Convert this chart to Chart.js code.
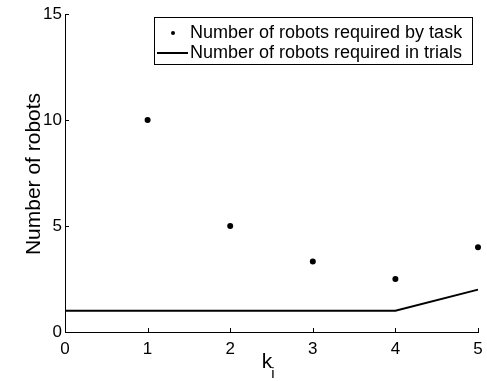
<!DOCTYPE html>
<html>
<head>
<meta charset="utf-8">
<script src="https://cdn.jsdelivr.net/npm/chart.js@4/dist/chart.umd.min.js"></script>
<style>
  html, body { margin: 0; padding: 0; background: #fff; }
  #wrap { width: 487px; height: 381px; }
</style>
</head>
<body>
<div id="wrap"><canvas id="c" width="487" height="381"></canvas></div>
<script>
// k_i values and robot counts
const kValues = [1, 2, 3, 4, 5];
const robotsByTask = [10, 5, 3.33, 2.5, 4];
const trialK = [0, 1, 2, 3, 4, 5];
const robotsInTrials = [1, 1, 1, 1, 1, 2];
const xTicks = [0, 1, 2, 3, 4, 5];
const yTicks = [0, 5, 10, 15];
const seriesLabels = ['Number of robots required by task', 'Number of robots required in trials'];

const FONT = '"Liberation Sans", Arial, Helvetica, sans-serif';

// Inward tick marks, axis titles and the boxed legend
const decorations = {
  id: 'decorations',
  afterDraw(chart) {
    const ctx = chart.ctx;
    const xs = chart.scales.x, ys = chart.scales.y;
    const a = chart.chartArea;
    ctx.save();
    ctx.strokeStyle = '#000';
    ctx.lineWidth = 1;
    xTicks.forEach(v => {
      const px = Math.round(xs.getPixelForValue(v)) + 0.5;
      ctx.beginPath(); ctx.moveTo(px, a.bottom); ctx.lineTo(px, a.bottom - 4); ctx.stroke();
    });
    yTicks.forEach(v => {
      const py = Math.round(ys.getPixelForValue(v)) + 0.5;
      ctx.beginPath(); ctx.moveTo(a.left, py); ctx.lineTo(a.left + 4, py); ctx.stroke();
    });

    // x-axis title: k with subscript i
    ctx.fillStyle = '#000';
    ctx.textBaseline = 'alphabetic';
    ctx.textAlign = 'left';
    ctx.font = '21px ' + FONT;
    const kw = ctx.measureText('k').width;
    const cx = 267;
    ctx.fillText('k', cx - kw / 2, 368);
    ctx.font = '15px ' + FONT;
    ctx.fillText('i', cx + kw / 2 - 1, 378);

    // y-axis title
    ctx.save();
    ctx.translate(40, 174);
    ctx.rotate(-Math.PI / 2);
    ctx.textAlign = 'center';
    ctx.font = '21px ' + FONT;
    ctx.fillText('Number of robots', 0, 0);
    ctx.restore();

    // legend
    const bx = 154.5, by = 17.5, bw = 318, bh = 47;
    ctx.lineWidth = 1;
    ctx.fillStyle = '#fff';
    ctx.fillRect(bx, by, bw, bh);
    ctx.strokeRect(bx, by, bw, bh);
    ctx.fillStyle = '#000';
    ctx.beginPath(); ctx.arc(173, 33, 2, 0, Math.PI * 2); ctx.fill();
    ctx.lineWidth = 2;
    ctx.beginPath(); ctx.moveTo(157, 53); ctx.lineTo(188, 53); ctx.stroke();
    ctx.font = '18px ' + FONT;
    ctx.textAlign = 'left';
    ctx.textBaseline = 'middle';
    ctx.fillText(chart.data.datasets[0].label, 190, 33);
    ctx.fillText(chart.data.datasets[1].label, 190, 53);
    ctx.restore();
  }
};

new Chart(document.getElementById('c'), {
  type: 'scatter',
  data: {
    datasets: [
      {
        label: seriesLabels[0],
        data: kValues.map((k, i) => ({ x: k, y: robotsByTask[i] })),
        pointRadius: 3,
        pointBackgroundColor: '#000',
        pointBorderWidth: 0,
        showLine: false,
        clip: false
      },
      {
        label: seriesLabels[1],
        data: trialK.map((k, i) => ({ x: k, y: robotsInTrials[i] })),
        showLine: true,
        borderColor: '#000',
        borderWidth: 2,
        pointRadius: 0,
        tension: 0,
        clip: false
      }
    ]
  },
  options: {
    responsive: false,
    animation: false,
    events: [],
    layout: { padding: { left: 0, right: 9, top: 14, bottom: 0 } },
    plugins: { legend: { display: false }, tooltip: { enabled: false } },
    scales: {
      x: {
        type: 'linear', min: 0, max: 5,
        afterFit(s) { s.height = 49; s.paddingLeft = 0; s.paddingRight = 0; },
        afterBuildTicks(s) { s.ticks = xTicks.map(v => ({ value: v })); },
        grid: { display: false, drawTicks: false },
        border: { display: true, color: '#000', width: 1 },
        ticks: { color: '#000', padding: 7, maxRotation: 0, font: { family: FONT, size: 17 } }
      },
      y: {
        type: 'linear', min: 0, max: 15,
        afterFit(s) { s.width = 65; s.paddingTop = 0; s.paddingBottom = 0; },
        afterBuildTicks(s) { s.ticks = yTicks.map(v => ({ value: v })); },
        grid: { display: false, drawTicks: false },
        border: { display: true, color: '#000', width: 1 },
        ticks: { color: '#000', padding: 3, font: { family: FONT, size: 17 } }
      }
    }
  },
  plugins: [decorations]
});
</script>
</body>
</html>
